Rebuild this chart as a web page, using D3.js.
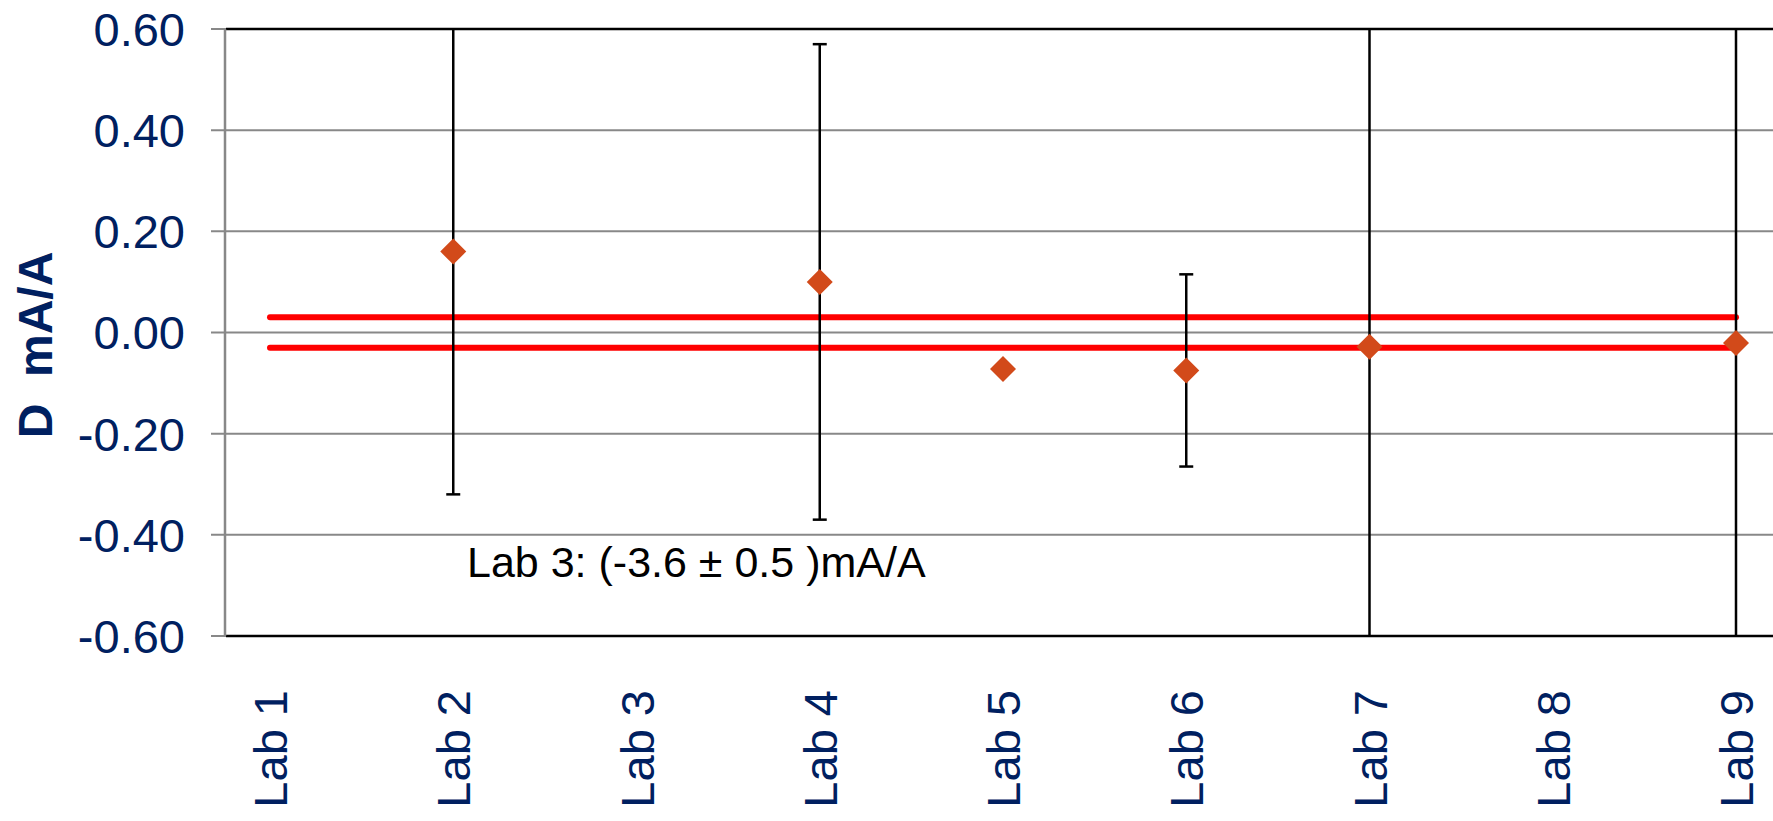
<!DOCTYPE html>
<html>
<head>
<meta charset="utf-8">
<style>
body { margin: 0; background: #fff; }
svg { display: block; font-family: Arial, "Liberation Sans", sans-serif; }
.grid line { stroke: #888; stroke-width: 2; }
.axis text { fill: #002060; }
</style>
</head>
<body>
<svg width="1773" height="821"></svg>
<script src="https://cdn.jsdelivr.net/npm/d3@7"></script>
<script>
// data
var labs = ["Lab 1", "Lab 2", "Lab 3", "Lab 4", "Lab 5", "Lab 6", "Lab 7", "Lab 8", "Lab 9"];
var deviation = [null, 0.16, null, 0.10, -0.072, -0.075, -0.028, null, -0.021];
var uncertainty = [null, 0.48, null, 0.47, 0, 0.19, 1.2, null, 1.2];
var limits = [0.03, -0.03];
var yTicks = [0.6, 0.4, 0.2, 0, -0.2, -0.4, -0.6];
var note = "Lab 3: (-3.6 \u00b1 0.5 )mA/A";

var svg = d3.select("svg"),
    width = +svg.attr("width"),
    height = +svg.attr("height"),
    margin = {top: 29, left: 226, bottom: 636};

var x = d3.scalePoint()
    .domain(labs)
    .range([270, 1736]);
var y = d3.scaleLinear()
    .domain([-0.6, 0.6])
    .range([margin.bottom, margin.top]);

var data = labs.map(function(d, i) {
  return {lab: d, v: deviation[i], e: uncertainty[i]};
}).filter(function(d) { return d.v !== null; });

// gridlines + ticks
svg.append("g")
    .attr("class", "grid")
  .selectAll("line")
  .data(yTicks)
  .enter().append("line")
    .attr("x1", 211)
    .attr("x2", width)
    .attr("y1", function(d) { return y(d); })
    .attr("y2", function(d) { return y(d); });

// top and bottom border are black
svg.selectAll(".edge")
  .data([0.6, -0.6])
  .enter().append("line")
    .attr("class", "edge")
    .attr("x1", margin.left)
    .attr("x2", width)
    .attr("y1", function(d) { return y(d); })
    .attr("y2", function(d) { return y(d); })
    .attr("stroke", "#000")
    .attr("stroke-width", 2.5);

svg.append("line")
    .attr("x1", margin.left - 1)
    .attr("x2", margin.left - 1)
    .attr("y1", margin.top)
    .attr("y2", margin.bottom)
    .attr("stroke", "#888")
    .attr("stroke-width", 2.5);

// y tick labels (plain hyphen like the original)
var fmt = d3.format(".2f");
svg.append("g")
    .attr("class", "axis")
  .selectAll("text")
  .data(yTicks)
  .enter().append("text")
    .attr("x", 185)
    .attr("y", function(d) { return y(d); })
    .attr("dy", "0.36em")
    .attr("text-anchor", "end")
    .style("font-size", "47px")
    .text(function(d) { return fmt(d).replace("\u2212", "-"); });

// x labels, rotated
svg.append("g")
    .attr("class", "axis")
  .selectAll("text")
  .data(labs)
  .enter().append("text")
    .attr("transform", function(d) { return "translate(" + (x(d) + 17) + ",690) rotate(-90)"; })
    .attr("text-anchor", "end")
    .style("font-size", "47px")
    .text(function(d) { return d; });

// y title
svg.append("text")
    .attr("transform", "translate(52,345) rotate(-90)")
    .attr("text-anchor", "middle")
    .attr("fill", "#002060")
    .style("font-size", "48px")
    .style("font-weight", "bold")
    .style("white-space", "pre")
    .text("D  mA/A");

// limit lines
svg.selectAll(".limit")
  .data(limits)
  .enter().append("line")
    .attr("class", "limit")
    .attr("x1", x(labs[0]))
    .attr("x2", x(labs[labs.length - 1]))
    .attr("y1", function(d) { return y(d); })
    .attr("y2", function(d) { return y(d); })
    .attr("stroke", "#ff0000")
    .attr("stroke-width", 6)
    .attr("stroke-linecap", "round");

// error bars, clipped to the plot
function clampY(v) { return Math.max(margin.top, Math.min(margin.bottom, y(v))); }
var bars = svg.append("g").selectAll("g")
  .data(data.filter(function(d) { return d.e > 0; }))
  .enter().append("g");
bars.append("line")
    .attr("x1", function(d) { return x(d.lab); })
    .attr("x2", function(d) { return x(d.lab); })
    .attr("y1", function(d) { return clampY(d.v + d.e); })
    .attr("y2", function(d) { return clampY(d.v - d.e); })
    .attr("stroke", "#000")
    .attr("stroke-width", 2.5);
[1, -1].forEach(function(s) {
  bars.filter(function(d) { return Math.abs(d.v + s * d.e) < 0.6; })
    .append("line")
      .attr("x1", function(d) { return x(d.lab) - 7; })
      .attr("x2", function(d) { return x(d.lab) + 7; })
      .attr("y1", function(d) { return y(d.v + s * d.e); })
      .attr("y2", function(d) { return y(d.v + s * d.e); })
      .attr("stroke", "#000")
      .attr("stroke-width", 2.5);
});

// diamonds
svg.append("g").selectAll("path")
  .data(data)
  .enter().append("path")
    .attr("transform", function(d) { return "translate(" + x(d.lab) + "," + y(d.v) + ")"; })
    .attr("d", "M0,-13L13,0L0,13L-13,0Z")
    .attr("fill", "#d24a1a");

svg.append("text")
    .attr("x", 467)
    .attr("y", 577)
    .attr("fill", "#000")
    .style("font-size", "43px")
    .text(note);
</script>
</body>
</html>
